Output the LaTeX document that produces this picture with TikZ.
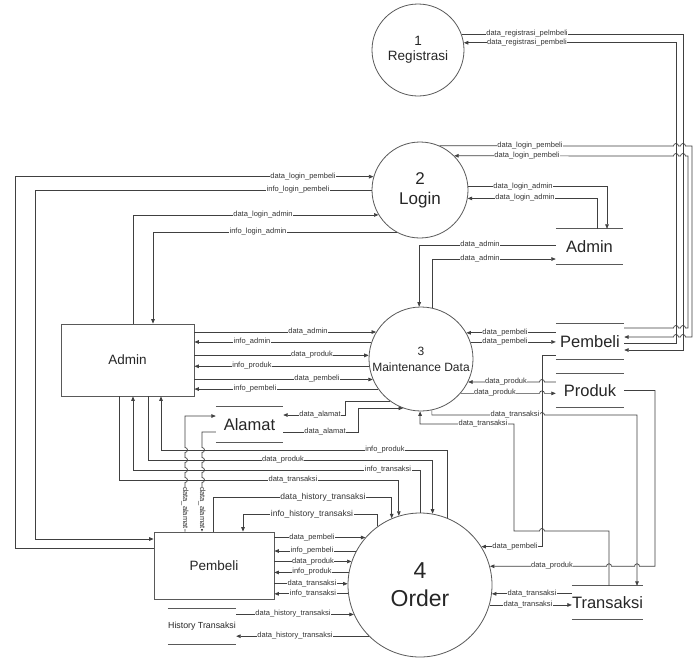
\documentclass[tikz,border=0pt]{standalone}
\usepackage{fontspec}
\setmainfont{Liberation Sans}
\usetikzlibrary{arrows.meta}
\tikzset{
  flow/.style={draw=black!75, line width=0.7pt, -{Triangle[length=4.5pt,width=3.6pt]}},
  storeline/.style={draw=black!65, line width=0.8pt},
  lbl/.style={fill=white, inner sep=0.6pt, text=black!80, font=\fontsize{7.5}{8}\selectfont},
  proc/.style={circle, draw=black!65, line width=0.8pt, fill=white, inner sep=0pt, align=center, text=black!85},
  ent/.style={draw=black!65, line width=0.8pt, fill=white, inner sep=0pt, text=black!85, font=\fontsize{13.5}{15}\selectfont},
  store/.style={fill=white, inner sep=0pt, text=black!85, font=\fontsize{16.5}{18}\selectfont}
}
\begin{document}
\begin{tikzpicture}[x=1pt, y=-1pt]
      \fill[white] (0,0) rectangle (693,657);
      \useasboundingbox (0,0) rectangle (693,657);
      \node[proc, minimum size=92, font=\fontsize{13.5}{15}\selectfont] (reg) at (418,50) {1\\Registrasi};
      \node[proc, minimum size=96, font=\fontsize{17}{20}\selectfont] (login) at (420,190) {2\\Login};
      \node[proc, minimum size=104, font=\fontsize{12}{16}\selectfont] (mnt) at (421,359) {3\\Maintenance Data};
      \node[proc, minimum size=144, font=\fontsize{23}{28}\selectfont] (order) at (420,585) {4\\Order};
      \node[ent, minimum width=133, minimum height=72] (adm) at (127.5,360) {Admin};
      \node[ent, minimum width=120, minimum height=67] (pmb) at (214,565.5) {Pembeli};
      \node[store, minimum width=67, minimum height=35] (ast) at (589.5,246.5) {Admin};
      \node[store, minimum width=68, minimum height=35] (pst) at (590,341.5) {Pembeli};
      \node[store, minimum width=68, minimum height=33] (prd) at (590,390.5) {Produk};
      \node[store, minimum width=69, minimum height=33] (tst) at (607.5,602.5) {Transaksi};
      \node[store, minimum width=67, minimum height=35] (alm) at (249.5,424.5) {Alamat};
      \node[store, minimum width=68, minimum height=35, font=\fontsize{8.8}{10}\selectfont] (hst) at (202,626.5) {History Transaksi};
      \draw[storeline] (ast.north west) -- (ast.north east) (ast.south west) -- (ast.south east);
      \draw[storeline] (pst.north west) -- (pst.north east) (pst.south west) -- (pst.south east);
      \draw[storeline] (prd.north west) -- (prd.north east) (prd.south west) -- (prd.south east);
      \draw[storeline] (tst.north west) -- (tst.north east) (tst.south west) -- (tst.south east);
      \draw[storeline] (alm.north west) -- (alm.north east) (alm.south west) -- (alm.south east);
      \draw[storeline] (hst.north west) -- (hst.north east) (hst.south west) -- (hst.south east);
      \draw[flow] (reg.20) -| (683,350) -- (pst.east |- 0,350);
      \draw[flow] (pst.east |- 0,343) -| (676,0 |- reg.9) -- (reg.9);
      \draw[flow] (login.66) -- (673.5,146) arc[start angle=180,end angle=0,radius=2.5pt]
        -- (680.5,146) arc[start angle=180,end angle=0,radius=2.5pt] -- (692,146) -- (692,337)
        -- (685.5,337) arc[start angle=0,end angle=180,radius=2.5pt]
        -- (678.5,337) arc[start angle=0,end angle=180,radius=2.5pt] -- (pst.east |- 0,337);
      \draw[flow] (pst.east |- 0,328) -- (673.5,328) arc[start angle=180,end angle=0,radius=2.5pt]
        -- (680.5,328) arc[start angle=180,end angle=0,radius=2.5pt] -- (688,328) -- (688,156)
        -- (685.5,156) arc[start angle=0,end angle=180,radius=2.5pt]
        -- (678.5,156) arc[start angle=0,end angle=180,radius=2.5pt] -- (login.45);
      \draw[flow] (pmb.west |- 0,548) -| (15,0 |- login.164) -- (login.164);
      \draw[flow] (login.180) -| (35,539) -- (pmb.west |- 0,539);
      \draw[flow] (133,0 |- adm.north) |- (login.211);
      \draw[flow] (login.241) -| (153,0 |- adm.north);
      \draw[flow] (login.4) -| (607,0 |- ast.north);
      \draw[flow] (597,0 |- ast.north) |- (login.-10);
      \draw[flow] (ast.west |- 0,245) -| (mnt.92);
      \draw[flow] (mnt.78) |- (ast.west |- 0,259);
      \draw[flow] (adm.east |- mnt.149) -- (mnt.149);
      \draw[flow] (mnt.161) -- (adm.east |- mnt.161);
      \draw[flow] (adm.east |- mnt.176) -- (mnt.176);
      \draw[flow] (mnt.188) -- (adm.east |- mnt.188);
      \draw[flow] (adm.east |- mnt.203) -- (mnt.203);
      \draw[flow] (mnt.215) -- (adm.east |- mnt.215);
      \draw[flow] (pst.west |- mnt.30) -- (mnt.30);
      \draw[flow] (mnt.19) -- (pst.west |- mnt.19);
      \draw[flow] (prd.west |- mnt.-26) -- (544.5,0 |- mnt.-26) arc[start angle=0,end angle=180,radius=2.5pt] -- (mnt.-26);
      \draw[flow] (mnt.-41) -- (539.5,0 |- mnt.-41) arc[start angle=180,end angle=0,radius=2.5pt] -- (prd.west |- mnt.-41);
      \draw[flow] (mnt.-78) |- (539.5,415) arc[start angle=180,end angle=0,radius=2.5pt] -| (637,0 |- tst.north);
      \draw[flow] (609,0 |- tst.north) |- (544.5,531) arc[start angle=0,end angle=180,radius=2.5pt] -| (514,424) -| (mnt.-91);
      \draw[flow] (mnt.234) -| (345,415) -- (alm.east |- 0,415);
      \draw[flow] (alm.east |- 0,432) -| (358,0 |- mnt.250) -- (mnt.250);
      \draw[flow] (pst.west |- 0,355) -| (542,0 |- order.32) -- (order.32);
      \draw[flow] (prd.east) -| (655,0 |- order.15) -- (639.5,0 |- order.15) arc[start angle=0,end angle=180,radius=2.5pt]
        -- (611.5,0 |- order.15) arc[start angle=0,end angle=180,radius=2.5pt] -- (order.15);
      \draw[flow] (tst.west |- order.-7) -- (order.-7);
      \draw[flow] (order.-16) -- (tst.west |- order.-16);
      \draw[flow] (order.68) |- (161,450) -- (161,0 |- adm.south);
      \draw[flow] (148,0 |- adm.south) -- (148,460) -| (order.80);
      \draw[flow] (order.90) |- (133,470) -- (133,0 |- adm.south);
      \draw[flow] (119,0 |- adm.south) -- (119,480) -| (order.107);
      \draw[flow] (213,0 |- pmb.north) -- (213,497) -| (order.113);
      \draw[flow] (order.126) |- (243,514) -- (243,0 |- pmb.north);
      \draw[flow] (pmb.east |- order.139) -- (order.139);
      \draw[flow] (order.152) -- (pmb.east |- order.152);
      \draw[flow] (pmb.east |- order.161) -- (order.161);
      \draw[flow] (order.170) -- (pmb.east |- order.170);
      \draw[flow] (pmb.east |- order.179) -- (order.179);
      \draw[flow] (order.187) -- (pmb.east |- order.187);
      \draw[flow] (hst.east |- order.204) -- (order.204);
      \draw[flow] (order.225) -- (hst.east |- order.225);
      \draw[flow] (185,0 |- pmb.north) -- (185,482.5) arc[start angle=-90,end angle=90,radius=2.5pt]
        -- (185,472.5) arc[start angle=-90,end angle=90,radius=2.5pt]
        -- (185,462.5) arc[start angle=-90,end angle=90,radius=2.5pt]
        -- (185,452.5) arc[start angle=-90,end angle=90,radius=2.5pt] -- (185,416) -- (alm.west |- 0,416);
      \draw[flow] (alm.west |- 0,432) -- (202,432) -- (202,447.5) arc[start angle=90,end angle=-90,radius=2.5pt]
        -- (202,457.5) arc[start angle=90,end angle=-90,radius=2.5pt]
        -- (202,467.5) arc[start angle=90,end angle=-90,radius=2.5pt]
        -- (202,477.5) arc[start angle=90,end angle=-90,radius=2.5pt] -- (202,0 |- pmb.north);
      \node[lbl] (t1) at (527,34) {data\_registrasi\_pelmbeli};
      \node[lbl] (t2) at (527,43) {data\_registrasi\_pembeli};
      \node[lbl] (t3) at (530,146) {data\_login\_pembeli};
      \node[lbl] (t4) at (527,156) {data\_login\_pembeli};
      \node[lbl] (t5) at (303,177) {data\_login\_pembeli};
      \node[lbl] (t6) at (298,190) {info\_login\_pembeli};
      \node[lbl] (t7) at (263,215) {data\_login\_admin};
      \node[lbl] (t8) at (258,232) {info\_login\_admin};
      \node[lbl] (t9) at (523,187) {data\_login\_admin};
      \node[lbl] (t10) at (525,198) {data\_login\_admin};
      \node[lbl] (t11) at (480,245) {data\_admin};
      \node[lbl] (t12) at (480,259) {data\_admin};
      \node[lbl] (t13) at (308,332) {data\_admin};
      \node[lbl] (t14) at (252,342) {info\_admin};
      \node[lbl] (t15) at (312,355) {data\_produk};
      \node[lbl] (t16) at (252,366) {info\_produk};
      \node[lbl] (t17) at (317,379) {data\_pembeli};
      \node[lbl] (t18) at (255,389) {info\_pembeli};
      \node[lbl] (t19) at (505,333) {data\_pembeli};
      \node[lbl] (t20) at (505,342) {data\_pembeli};
      \node[lbl] (t21) at (506,382) {data\_produk};
      \node[lbl] (t22) at (495,393) {data\_produk};
      \node[lbl] (t23) at (515,415) {data\_transaksi};
      \node[lbl] (t24) at (483,424) {data\_transaksi};
      \node[lbl] (t25) at (320,415) {data\_alamat};
      \node[lbl] (t26) at (325,432) {data\_alamat};
      \node[lbl] (t27) at (385,450) {info\_produk};
      \node[lbl] (t28) at (283,460) {data\_produk};
      \node[lbl] (t29) at (388,470) {info\_transaksi};
      \node[lbl] (t30) at (293,480) {data\_transaksi};
      \node[lbl, font=\fontsize{8.5}{9}\selectfont] (t31) at (323,497) {data\_history\_transaksi};
      \node[lbl, font=\fontsize{8.5}{9}\selectfont] (t32) at (312,514) {info\_history\_transaksi};
      \node[lbl] (t33) at (312,538) {data\_pembeli};
      \node[lbl] (t34) at (312,551) {info\_pembeli};
      \node[lbl] (t35) at (313,562) {data\_produk};
      \node[lbl] (t36) at (312,572) {info\_produk};
      \node[lbl] (t37) at (312,584) {data\_transaksi};
      \node[lbl] (t38) at (313,594) {info\_transaksi};
      \node[lbl] (t39) at (293,614) {data\_history\_transaksi};
      \node[lbl] (t40) at (295,636) {data\_history\_transaksi};
      \node[lbl] (t41) at (515,547) {data\_pembeli};
      \node[lbl] (t42) at (552,566) {data\_produk};
      \node[lbl] (t43) at (532,594) {data\_transaksi};
      \node[lbl] (t44) at (528,605) {data\_transaksi};
      \node[lbl, rotate=-90] (t45) at (185,508) {data\_alamat};
      \node[lbl, rotate=-90] (t46) at (202,508) {data\_alamat};
    \end{tikzpicture}
\end{document}
